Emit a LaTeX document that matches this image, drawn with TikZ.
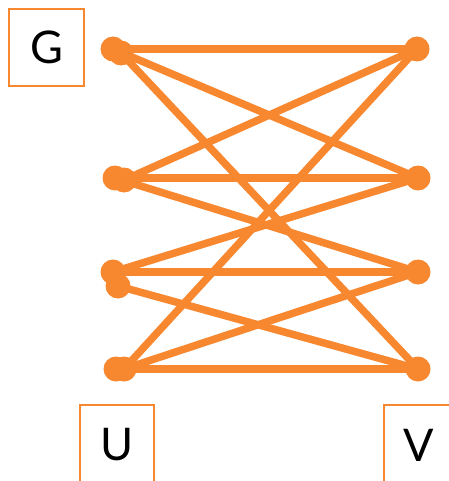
\documentclass[tikz,border=0pt]{standalone}
\usepackage{fontspec}
\setmainfont{Lato}
\definecolor{org}{RGB}{247,136,48}
\begin{document}
\begin{tikzpicture}[x=1pt,y=-1pt,
  dot/.style={circle,fill=org,inner sep=0pt,minimum size=25pt},
  edge/.style={draw=org,line width=7.5pt},
  lbl/.style={draw=org,line width=1.5pt,inner sep=0pt,font=\fontsize{45}{54}\selectfont}]
\useasboundingbox (0,0) rectangle (448,481);
% labels
\node[lbl,minimum width=75pt,minimum height=77pt] (G) at (46.5,47.5) {G};
\node[lbl,minimum width=74pt,minimum height=80pt] (U) at (117,445) {U};
\node[lbl,minimum width=70pt,minimum height=80pt] (V) at (419,445) {V};
% left dots
\node[dot] (L1a) at (113,49) {};
\node[dot] (L1b) at (121,53) {};
\node[dot] (L2a) at (115,178) {};
\node[dot] (L2b) at (124,180) {};
\node[dot] (L3a) at (113,272) {};
\node[dot] (L3b) at (118,286) {};
\node[dot] (L4a) at (116,369) {};
\node[dot] (L4b) at (124,369) {};
% right dots
\node[dot] (R1) at (417,49) {};
\node[dot] (R2) at (418,178) {};
\node[dot] (R3) at (418,272) {};
\node[dot] (R4) at (418,369) {};
% edges
\draw[edge] (L1a.center) -- (R1.center);
\draw[edge] (L1a.center) -- (R2.center);
\draw[edge] (L1b.center) -- (R4.center);
\draw[edge] (L2b.center) -- (R1.center);
\draw[edge] (L2a.center) -- (R2.center);
\draw[edge] (L2a.center) -- (R3.center);
\draw[edge] (L3a.center) -- (R2.center);
\draw[edge] (L3a.center) -- (R3.center);
\draw[edge] (L3b.center) -- (R4.center);
\draw[edge] (L4b.center) -- (R1.center);
\draw[edge] (L4b.center) -- (R3.center);
\draw[edge] (L4a.center) -- (R4.center);
\end{tikzpicture}
\end{document}
